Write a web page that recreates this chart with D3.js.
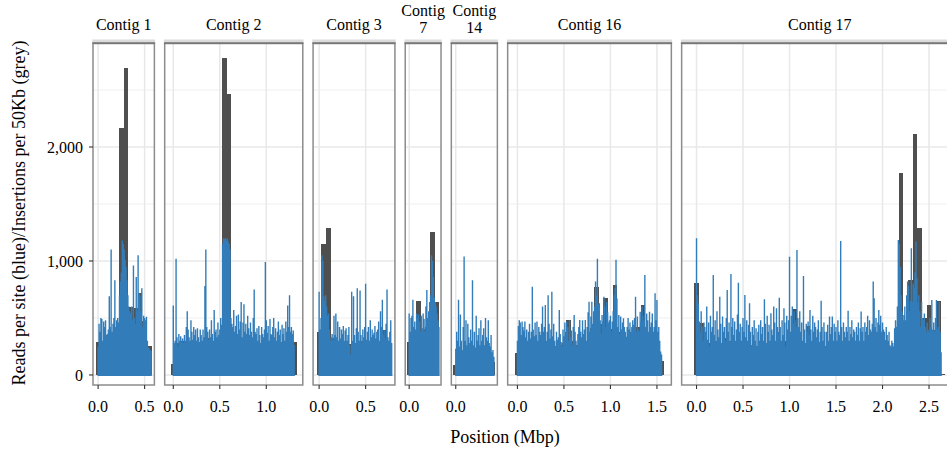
<!DOCTYPE html>
<html>
<head>
<meta charset="utf-8">
<script src="https://cdn.jsdelivr.net/npm/d3@7"></script>
<style>
  body { margin: 0; background: #fff; }
  svg { display: block; }
  text { font-family: "Liberation Serif", "Times New Roman", serif; fill: #000; }
</style>
</head>
<body>
<svg id="chart" width="947" height="451"></svg>
<script>
// Contigs shown as facets, with their strip labels (long ones wrapped)
const contigs = ["Contig 1", "Contig 2", "Contig 3", "Contig 7", "Contig 14", "Contig 16", "Contig 17"];
const stripLabels = [["Contig 1"], ["Contig 2"], ["Contig 3"], ["Contig", "7"], ["Contig", "14"], ["Contig 16"], ["Contig 17"]];

const binSize = 0.05;   // Mbp per insertion bin (50 Kb)
const siteStep = 0.01;  // Mbp between read-count samples

// Insertions per 50Kb bin (grey), bins starting at 0 Mbp
const contig1Insertions = [290, 300, 280, 320, 410, 2165, 2690, 600, 590, 720, 470, 250];
const contig2Insertions = [100, 280, 300, 260, 300, 280, 260, 300, 320, 280, 300, 2780, 2465, 320, 300, 260, 280, 250, 260, 250, 240, 280, 260, 270, 280, 320, 290];
const contig3Insertions = [380, 1145, 1285, 320, 300, 280, 260, 270, 280, 300, 280, 260, 300, 300, 395, 280];
const contig7Insertions = [292, 380, 650, 400, 420, 1257, 643];
const contig14Insertions = [90, 200, 220, 200, 210, 200, 190, 200, 115];
const contig16Insertions = [190, 280, 300, 260, 300, 280, 300, 280, 250, 260,
  280, 482, 300, 260, 250, 300, 410, 769, 450, 672,
  400, 790, 380, 320, 300, 320, 418, 614, 300, 320,
  280, 123];
const contig17Insertions = [810, 460, 300, 280, 300, 280, 320, 300, 280, 300,
  300, 280, 260, 250, 300, 280, 300, 260, 280, 300,
  320, 576, 380, 280, 430, 300, 280, 260, 250, 280,
  300, 260, 250, 280, 260, 300, 280, 260, 300, 280,
  300, 250, 230, 300, 1768, 450, 833, 2111, 1287, 500,
  614, 395, 652, 8];

// Reads per site (blue), sampled every 0.01 Mbp from 0
const contig1Reads = [250, 450, 380, 500, 490, 300, 470, 420, 480, 350,
  360, 400, 690, 420, 1100, 380, 450, 500, 830, 420,
  480, 500, 460, 700, 820, 900, 1180, 1150, 1100, 1010,
  950, 830, 700, 600, 560, 540, 600, 480, 960, 500,
  450, 860, 560, 1050, 720, 700, 560, 760, 420, 520,
  500, 480, 510, 300, 240, 230, 220, 210];
const contig2Reads = [610, 280, 300, 1020, 330, 250, 360, 300, 340, 290,
  320, 280, 350, 300, 420, 560, 400, 330, 300, 480,
  380, 310, 420, 350, 400, 300, 410, 330, 290, 400,
  350, 300, 400, 330, 780, 1100, 420, 380, 310, 400,
  330, 480, 360, 300, 570, 380, 400, 330, 460, 350,
  400, 500, 440, 1150, 1200, 1190, 1200, 1180, 1200, 1170,
  1150, 1100, 500, 450, 420, 570, 380, 430, 520, 360,
  530, 400, 470, 640, 330, 460, 620, 380, 450, 360,
  520, 410, 350, 460, 380, 330, 500, 750, 380, 360,
  410, 300, 430, 350, 280, 420, 360, 330, 400, 990,
  480, 370, 430, 300, 490, 360, 350, 420, 500, 330,
  410, 300, 380, 470, 350, 400, 290, 440, 360, 410,
  300, 470, 380, 610, 420, 700, 380, 420, 360, 390,
  260];
const contig3Reads = [730, 400, 500, 1050, 1000, 690, 650, 700, 600, 520,
  540, 400, 300, 330, 360, 300, 520, 350, 540, 330,
  470, 300, 420, 320, 400, 360, 430, 300, 390, 410,
  300, 350, 420, 260, 180, 730, 300, 690, 350, 280,
  410, 760, 380, 300, 740, 350, 290, 400, 330, 420,
  800, 310, 380, 420, 300, 480, 330, 400, 350, 370,
  430, 320, 380, 400, 470, 300, 560, 420, 660, 350,
  390, 320, 450, 750, 330, 300, 380, 480, 280];
const contig7Reads = [540, 380, 500, 520, 660, 420, 470, 400, 540, 500,
  530, 470, 380, 520, 410, 540, 490, 380, 600, 745,
  500, 560, 640, 700, 1050, 1000, 860, 680, 640, 600,
  540, 480, 420];
const contig14Reads = [230, 380, 300, 660, 250, 530, 300, 220, 420, 1040,
  300, 480, 260, 450, 330, 280, 400, 300, 830, 260,
  380, 240, 520, 300, 350, 410, 260, 480, 300, 350,
  410, 260, 500, 330, 300, 480, 280, 250, 350, 200,
  220, 160];
const contig16Reads = [300, 430, 480, 460, 350, 470, 420, 390, 470, 330,
  400, 300, 380, 450, 320, 380, 775, 400, 340, 460,
  350, 470, 300, 420, 380, 350, 450, 600, 380, 420,
  614, 300, 380, 700, 450, 320, 400, 730, 340, 450,
  300, 250, 380, 310, 330, 570, 360, 290, 250, 400,
  340, 460, 380, 470, 420, 300, 480, 330, 390, 260,
  420, 526, 380, 300, 250, 360, 420, 482, 380, 330,
  480, 360, 400, 482, 300, 420, 550, 643, 380, 512,
  643, 450, 560, 600, 819, 700, 1020, 620, 629, 480,
  360, 526, 470, 687, 600, 420, 640, 550, 460, 480,
  520, 380, 470, 560, 700, 760, 1010, 672, 420, 526,
  360, 512, 400, 460, 497, 420, 380, 336, 420, 500,
  400, 460, 380, 420, 480, 440, 500, 687, 380, 512,
  400, 380, 555, 460, 600, 520, 480, 877, 420, 540,
  480, 380, 555, 420, 460, 540, 380, 420, 716, 480,
  658, 380, 420, 300, 205, 180];
const contig17Reads = [1200, 700, 629, 470, 380, 560, 424, 300, 460, 420,
  380, 600, 310, 460, 250, 520, 380, 420, 877, 350,
  480, 290, 560, 400, 330, 687, 450, 280, 512, 380,
  420, 300, 500, 746, 380, 460, 290, 886, 420, 500,
  350, 470, 300, 400, 530, 810, 380, 450, 300, 420,
  500, 380, 702, 330, 480, 300, 440, 629, 380, 260,
  420, 350, 480, 300, 409, 250, 380, 440, 300, 480,
  360, 420, 300, 664, 450, 280, 520, 380, 440, 300,
  541, 400, 350, 600, 460, 300, 585, 420, 380, 678,
  420, 300, 480, 350, 585, 460, 250, 520, 400, 480,
  1038, 380, 520, 600, 450, 560, 480, 420, 1096, 500,
  420, 560, 380, 460, 300, 868, 400, 280, 450, 380,
  470, 350, 570, 400, 300, 520, 380, 460, 420, 330,
  400, 480, 290, 380, 652, 420, 300, 460, 380, 250,
  380, 440, 300, 512, 360, 420, 512, 300, 450, 380,
  420, 300, 480, 380, 350, 1175, 420, 300, 460, 380,
  330, 420, 380, 564, 300, 420, 360, 480, 330, 400,
  380, 300, 420, 350, 460, 300, 410, 556, 380, 420,
  300, 460, 380, 420, 520, 350, 480, 400, 380, 450,
  819, 672, 420, 500, 380, 460, 570, 440, 520, 380,
  460, 400, 380, 307, 420, 350, 300, 380, 260, 249,
  300, 280, 250, 409, 480, 424, 600, 1184, 1150, 950,
  700, 560, 480, 526, 600, 480, 700, 819, 780, 560,
  650, 1111, 643, 800, 760, 900, 1170, 850, 635, 700,
  560, 420, 640, 500, 480, 540, 420, 380, 460, 400,
  380, 500, 420, 658, 400, 460, 380, 500, 658, 400,
  420, 640, 380, 200];

const insertions = [contig1Insertions, contig2Insertions, contig3Insertions, contig7Insertions,
  contig14Insertions, contig16Insertions, contig17Insertions];
const reads = [contig1Reads, contig2Reads, contig3Reads, contig7Reads,
  contig14Reads, contig16Reads, contig17Reads];

// Axis breaks
const xTicks = [[0, 0.5], [0, 0.5, 1.0], [0, 0.5], [0], [0], [0, 0.5, 1.0, 1.5], [0, 0.5, 1.0, 1.5, 2.0, 2.5]];
const yTicks = [0, 1000, 2000];
const yMinor = [500, 1500, 2500];

// Layout
const LEFT = 93, TOP = 43.5, BOTTOM = 385;
const PX_PER_MBP = 93, GAP = 10.3;
const GREY = "#4f4f4f", BLUE = "#327db9";

const svg = d3.select("#chart");
const y = d3.scaleLinear().domain([-88, 2908]).range([BOTTOM, TOP]);
const fmtX = d3.format(".1f");
const fmtY = d3.format(",");

const defs = svg.append("defs");
let panelLeft = LEFT;

contigs.forEach((name, i) => {
  const bins = insertions[i];
  const lo0 = -binSize / 2;
  const hi0 = (bins.length - 1) * binSize + binSize / 2;
  const pad = 0.05 * (hi0 - lo0);
  const domain = [lo0 - pad, hi0 + pad];
  const width = (domain[1] - domain[0]) * PX_PER_MBP;
  const x = d3.scaleLinear().domain(domain).range([panelLeft, panelLeft + width]);

  const clipId = "clip" + i;
  defs.append("clipPath").attr("id", clipId)
    .append("rect").attr("x", panelLeft).attr("y", TOP).attr("width", width).attr("height", BOTTOM - TOP);

  const g = svg.append("g").attr("class", "panel");
  const inner = g.append("g").attr("clip-path", `url(#${clipId})`);

  inner.append("rect").attr("x", panelLeft).attr("y", TOP)
    .attr("width", width).attr("height", BOTTOM - TOP).attr("fill", "#fff");

  // grid lines
  inner.selectAll("line.hminor").data(yMinor).join("line")
    .attr("x1", panelLeft).attr("x2", panelLeft + width)
    .attr("y1", d => y(d)).attr("y2", d => y(d))
    .attr("stroke", "#f0f0f0").attr("stroke-width", 1.2);
  inner.selectAll("line.hmajor").data(yTicks).join("line")
    .attr("x1", panelLeft).attr("x2", panelLeft + width)
    .attr("y1", d => y(d)).attr("y2", d => y(d))
    .attr("stroke", "#e8e8e8").attr("stroke-width", 1.5);
  inner.selectAll("line.vmajor").data(xTicks[i]).join("line")
    .attr("x1", d => x(d)).attr("x2", d => x(d))
    .attr("y1", TOP).attr("y2", BOTTOM)
    .attr("stroke", "#e8e8e8").attr("stroke-width", 1.5);

  // insertions per bin (grey bars)
  inner.selectAll("rect.bin").data(bins).join("rect")
    .attr("x", (d, j) => x(j * binSize - binSize / 2))
    .attr("width", (d, j) => x(j * binSize + binSize / 2) - x(j * binSize - binSize / 2))
    .attr("y", d => y(d))
    .attr("height", d => y(0) - y(d))
    .attr("fill", GREY)
    .attr("shape-rendering", "crispEdges");

  // reads per site (blue)
  const path = d3.path();
  reads[i].forEach((v, j) => {
    const px = x(j * siteStep);
    path.moveTo(px, y(0) + 1);
    path.lineTo(px, y(v));
  });
  inner.append("path").attr("d", path.toString())
    .attr("fill", "none").attr("stroke", BLUE)
    .attr("stroke-width", 1.4);

  // panel border
  g.append("rect").attr("x", panelLeft).attr("y", TOP)
    .attr("width", width).attr("height", BOTTOM - TOP)
    .attr("fill", "none").attr("stroke", "#8c8c8c").attr("stroke-width", 1.5);

  // strip band
  g.append("rect").attr("x", panelLeft - 0.75).attr("y", 39.5)
    .attr("width", width + 1.5).attr("height", 3)
    .attr("fill", "#dcdcdc");
  g.append("line").attr("x1", panelLeft - 0.75).attr("x2", panelLeft + width + 0.75)
    .attr("y1", 43).attr("y2", 43)
    .attr("stroke", "#707070").attr("stroke-width", 1.6);

  // strip label
  const lines = stripLabels[i];
  const cx = panelLeft + width / 2;
  const baselines = lines.length === 1 ? [30] : [15.5, 33];
  lines.forEach((t, k) => {
    g.append("text").attr("x", cx).attr("y", baselines[k])
      .attr("text-anchor", "middle").attr("font-size", 16).text(t);
  });

  // x axis
  const ax = g.append("g");
  ax.selectAll("line").data(xTicks[i]).join("line")
    .attr("x1", d => x(d)).attr("x2", d => x(d))
    .attr("y1", BOTTOM).attr("y2", BOTTOM + 4)
    .attr("stroke", "#333").attr("stroke-width", 1.1);
  ax.selectAll("text").data(xTicks[i]).join("text")
    .attr("x", d => x(d)).attr("y", 412)
    .attr("text-anchor", "middle").attr("font-size", 16)
    .text(d => fmtX(d));

  // y axis on the first panel
  if (i === 0) {
    const ay = g.append("g");
    ay.selectAll("line").data(yTicks).join("line")
      .attr("x1", panelLeft - 4).attr("x2", panelLeft)
      .attr("y1", d => y(d)).attr("y2", d => y(d))
      .attr("stroke", "#333").attr("stroke-width", 1.1);
    ay.selectAll("text").data(yTicks).join("text")
      .attr("x", panelLeft - 10).attr("y", d => y(d))
      .attr("dy", "0.35em")
      .attr("text-anchor", "end").attr("font-size", 16)
      .text(d => fmtY(d));
  }

  panelLeft += width + GAP;
});

// axis titles
svg.append("text")
  .attr("transform", "translate(25,213) rotate(-90)")
  .attr("text-anchor", "middle").attr("font-size", 18)
  .text("Reads per site (blue)/Insertions per 50Kb (grey)");
svg.append("text")
  .attr("x", 505).attr("y", 443)
  .attr("text-anchor", "middle").attr("font-size", 18)
  .text("Position (Mbp)");
</script>
</body>
</html>
